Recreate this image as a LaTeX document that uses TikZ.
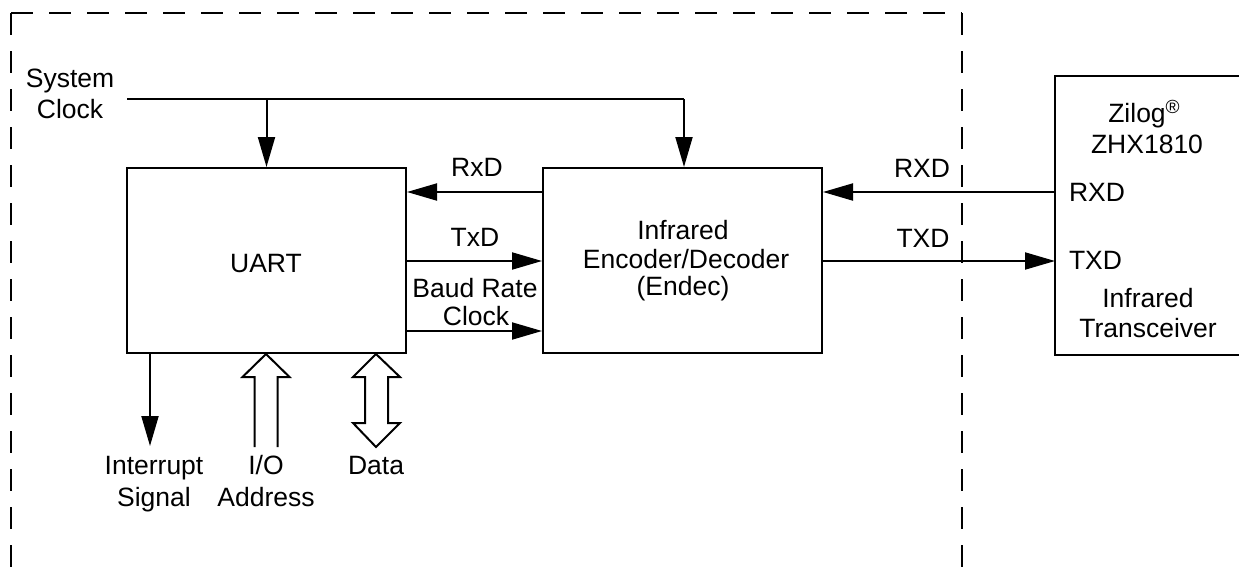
\documentclass[tikz,border=0pt]{standalone}
\usepackage{fontspec}
\setmainfont{Liberation Sans}
\usetikzlibrary{arrows.meta,calc}
\begin{document}
\begin{tikzpicture}[x=1pt,y=-1pt,line width=2pt,
  every node/.style={font=\fontsize{26.5}{29}\selectfont},
  box/.style={draw,minimum width=279pt,minimum height=185pt,inner sep=0pt,align=center},
  lbl/.style={inner sep=0pt,anchor=base},
  arr/.style={-{Triangle[length=30pt,width=17pt]}},
  frame/.style={line width=1.8pt,dash pattern=on 22pt off 16pt}]
\useasboundingbox (0,0) rectangle (1239,581);
% dashed frame
\draw[frame] (11,13) -- (11,600);
\draw[frame] (11,13) -- (962,13);
\draw[frame] (962,13) -- (962,600);
% boxes
\node[box] (uart) at (266.5,260.5) {};
\node[lbl] (uartt) at (266,272) {UART};
\node[box] (endec) at (682.5,260.5) {};
\node[lbl] (en1) at (683,239) {Infrared};
\node[lbl] (en2) at (686,268) {Encoder/Decoder};
\node[lbl] (en3) at (683,295) {(Endec)};
\node[inner sep=0pt,minimum width=190pt,minimum height=277pt,anchor=north west] (xcvr) at (1055,76) {};
\draw (xcvr.north east) -- (xcvr.north west) -- (xcvr.south west) -- (xcvr.south east);
\node[lbl] (zilog) at (1144,122) {Zilog\raisebox{9pt}{\fontsize{19}{19}\selectfont\textregistered}};
\node[lbl] (zhx) at (1147,153) {ZHX1810};
\node[lbl,anchor=base west] (xrxd) at (1068,201) {RXD};
\node[lbl,anchor=base west] (xtxd) at (1068,269) {TXD};
\node[lbl] (xinf) at (1148,307) {Infrared};
\node[lbl] (xtr) at (1148,337) {Transceiver};
% system clock
\node[lbl] (sys1) at (70,87) {System};
\node[lbl] (sys2) at (70,118) {Clock};
\coordinate (clk) at (127,99);
\coordinate (clkr) at (684,99);
\draw (clk) -- (clkr);
\draw[arr] (uart.north |- clk) -- (uart.north);
\draw[arr] (clkr) -- (clkr |- endec.north);
% signal lines
\coordinate (ry) at (0,192);
\coordinate (ty) at (0,261);
\coordinate (by) at (0,331);
\draw[arr] (xcvr.west |- ry) -- (endec.east |- ry);
\draw[arr] (endec.east |- ty) -- (xcvr.west |- ty);
\draw[arr] (endec.west |- ry) -- (uart.east |- ry);
\draw[arr] (uart.east |- ty) -- (endec.west |- ty);
\draw[arr] (uart.east |- by) -- (endec.west |- by);
\node[lbl] (lrxd) at (477,176) {RxD};
\node[lbl] (ltxd) at (475,246) {TxD};
\node[lbl] (lbr1) at (475,297) {Baud Rate};
\node[lbl] (lbr2) at (476,325) {Clock};
\node[lbl] (lRXD) at (922,177) {RXD};
\node[lbl] (lTXD) at (923,247) {TXD};
% bottom signals
\coordinate (intr) at (150,446);
\draw[arr] (uart.south -| intr) -- (intr);
\draw (254.5,447) -- (254.5,377) -- (242.5,377) -- (uart.south -| 266,0) -- (289.5,377) -- (277.5,377) -- (277.5,447);
\draw (365,377) -- (353,377) -- (uart.south -| 376,0) -- (400,377) -- (388,377) -- (388,423) -- (400,423) -- (376,447) -- (353,423) -- (365,423) -- cycle;
\node[lbl] (int1) at (154,474) {Interrupt};
\node[lbl] (int2) at (154,506) {Signal};
\node[lbl] (io1) at (266,474) {I/O};
\node[lbl] (io2) at (266,506) {Address};
\node[lbl] (dat) at (376,474) {Data};
\end{tikzpicture}
\end{document}
